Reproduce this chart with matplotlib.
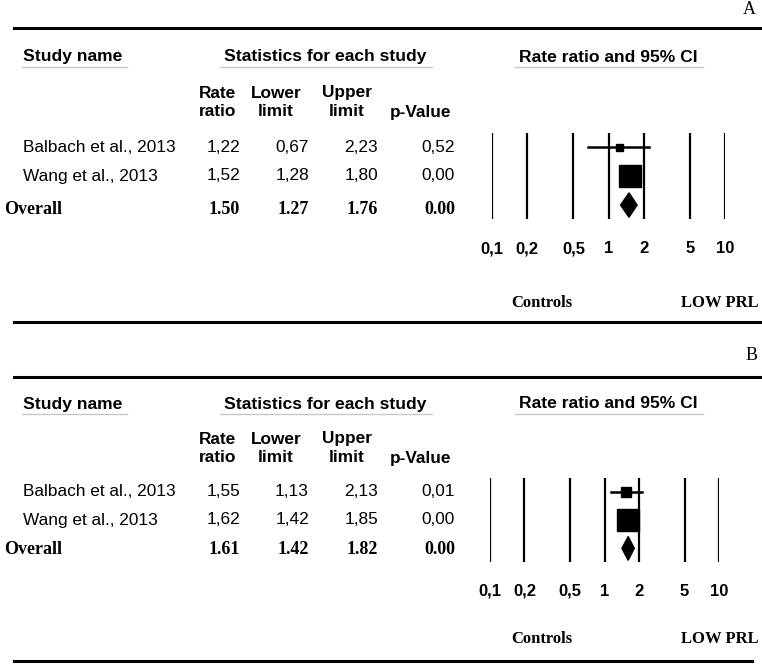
import numpy as np
import matplotlib
matplotlib.use('Agg')
import matplotlib.pyplot as plt
from matplotlib.patches import Polygon

# data
studies = ['Balbach et al., 2013', 'Wang et al., 2013']

rr_a = [1.22, 1.52]
lo_a = [0.67, 1.28]
hi_a = [2.23, 1.80]
p_a = [0.52, 0.00]
overall_a = [1.50, 1.27, 1.76, 0.00]

rr_b = [1.55, 1.62]
lo_b = [1.13, 1.42]
hi_b = [2.13, 1.85]
p_b = [0.01, 0.00]
overall_b = [1.61, 1.42, 1.82, 0.00]

ticks = [0.1, 0.2, 0.5, 1, 2, 5, 10]
tick_labels = ['0,1', '0,2', '0,5', '1', '2', '5', '10']

W, H = 762, 664
SANS = ['Liberation Sans', 'DejaVu Sans']
SERIF = ['Liberation Serif', 'DejaVu Serif']

fig = plt.figure(figsize=(W / 100, H / 100), dpi=100)
bg = fig.add_axes([0, 0, 1, 1])
bg.set_xlim(0, W)
bg.set_ylim(H, 0)
bg.axis('off')


def px_axes(x0, y0, x1, y1):
    return fig.add_axes([x0 / W, 1 - y1 / H, (x1 - x0) / W, (y1 - y0) / H])


def fmt(v, sep=','):
    return ('%.2f' % v).replace('.', sep)


def draw_panel(letter, rr, lo, hi, pv, overall, lay):
    # frame lines and panel letter
    bg.text(lay['letter_x'], lay['letter_y'], letter, family=SERIF, fontsize=13,
            ha='center', va='center')
    bg.plot([14, W], [lay['top'], lay['top']], color='black', lw=2.2)
    bg.plot([14, lay['bot_x']], [lay['bot'], lay['bot']], color='black', lw=2.2)

    # headers
    hy = lay['head']
    bg.text(23, hy, 'Study name', family=SANS, weight='bold', fontsize=12.6, va='center')
    bg.text(325, hy, 'Statistics for each study', family=SANS, weight='bold', fontsize=12.6,
            va='center', ha='center')
    bg.text(608, hy, 'Rate ratio and 95% CI', family=SANS, weight='bold', fontsize=12.6,
            va='center', ha='center')
    uy = hy + 10
    for x0, x1 in [(22, 127), (220, 432), (515, 703)]:
        bg.plot([x0, x1], [uy, uy], color='#c8c8c8', lw=1)

    # column sub headers
    for x, l1, l2 in [(218, 'Rate', 'ratio'), (276, 'Lower', 'limit'),
                      (347, 'Upper', 'limit'), (421, '', 'p-Value')]:
        bg.text(x, lay['sub'], l1, family=SANS, weight='bold', fontsize=12.4,
                ha='center', va='center')
        bg.text(x, lay['sub'] + 19, l2, family=SANS, weight='bold', fontsize=12.4,
                ha='center', va='center')

    # study rows
    cols = [240, 309, 378, 455]
    for i, name in enumerate(studies):
        y = lay['rows'][i]
        bg.text(23, y, name, family=SANS, fontsize=12.4, va='center')
        for x, v in zip(cols, [rr[i], lo[i], hi[i], pv[i]]):
            bg.text(x, y, fmt(v), family=SANS, fontsize=12.4, va='center', ha='right')
    y = lay['rows'][2]
    bg.text(4, y, 'Overall', family=SERIF, weight='bold', fontsize=13, va='center')
    for x, v in zip(cols, overall):
        bg.text(x, y, fmt(v, '.'), family=SERIF, weight='bold', fontsize=13,
                va='center', ha='right')

    # forest plot
    ax = px_axes(lay['x01'], lay['ftop'], lay['x10'], lay['fbot'])
    ax.set_xscale('log')
    ax.set_xlim(0.1, 10)
    ax.set_ylim(2.48, -0.48)
    ax.axis('off')
    for t in ticks:
        ax.axvline(t, color='black', lw=1.6, zorder=1)

    # tick labels sit on a common baseline below the plot
    span = lay['fbot'] - lay['ftop']
    ty = -(lay['tick_base'] - lay['fbot']) / span
    for t, lab in zip(ticks, tick_labels):
        ax.text(t, ty, lab, transform=ax.get_xaxis_transform(), family=SANS,
                weight='bold', fontsize=12, ha='center', va='baseline')

    for i in range(len(studies)):
        ax.plot([lo[i], hi[i]], [i, i], color='black', lw=1.8, zorder=3, clip_on=False)
        ax.plot(rr[i], i, marker='s', color='black', ms=lay['sq'][i] * 0.72,
                zorder=4, clip_on=False)
    est, l, h = overall[0], overall[1], overall[2]
    d = 0.42
    ax.add_patch(Polygon([[l, 2], [est, 2 - d], [h, 2], [est, 2 + d]], closed=True,
                         color='black', zorder=4, clip_on=False))

    bg.text(542, lay['side'], 'Controls', family=SERIF, weight='bold', fontsize=12,
            ha='center', va='center')
    bg.text(720, lay['side'], 'LOW PRL', family=SERIF, weight='bold', fontsize=12,
            ha='center', va='center')


layout_a = dict(letter_x=749, letter_y=9, top=28, bot=322, bot_x=W, head=57, sub=93,
                rows=[147, 176, 209], ftop=133, fbot=219, x01=492, x10=725,
                sq=[7, 23], tick_base=253, side=303)
layout_b = dict(letter_x=752, letter_y=356, top=377, bot=661, bot_x=752, head=404, sub=439,
                rows=[492, 520, 550], ftop=478, fbot=562, x01=490, x10=719,
                sq=[10, 23], tick_base=596, side=639)

draw_panel('A', rr_a, lo_a, hi_a, p_a, overall_a, layout_a)
draw_panel('B', rr_b, lo_b, hi_b, p_b, overall_b, layout_b)

fig.savefig('out.png', dpi=100)
